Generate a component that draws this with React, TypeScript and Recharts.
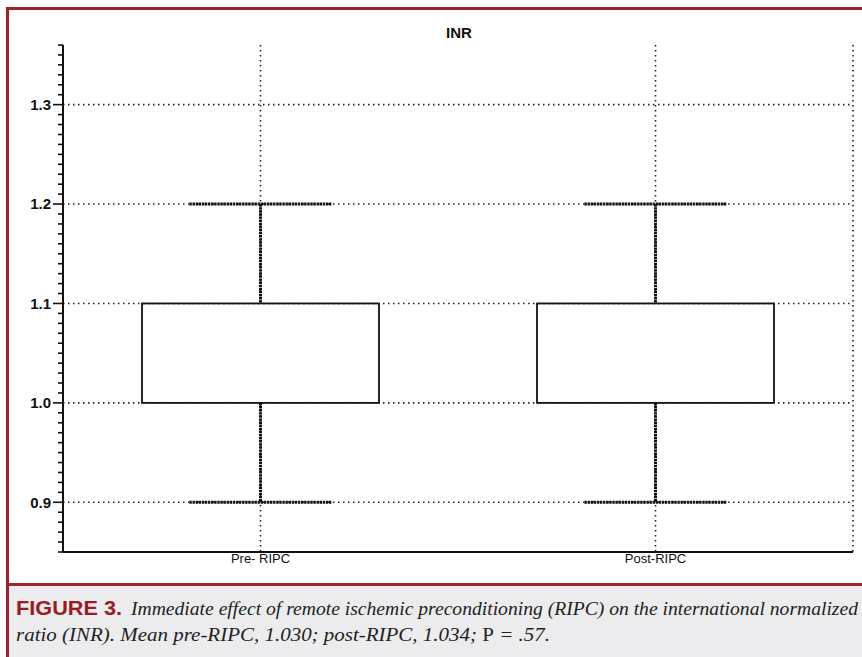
import React from 'react';
import { ComposedChart, Bar, XAxis, YAxis, CartesianGrid, ReferenceLine } from 'recharts';

// Box-plot summary of INR before and after RIPC
const categories = ['Pre- RIPC', 'Post-RIPC'];
const lowerWhisker = [0.9, 0.9];
const firstQuartile = [1.0, 1.0];
const thirdQuartile = [1.1, 1.1];
const upperWhisker = [1.2, 1.2];

const majorTicks = [0.9, 1.0, 1.1, 1.2, 1.3];
const yDomain: [number, number] = [0.85, 1.36];

// minor ticks every 0.01 across the value range
const minorTicks: number[] = [];
for (let i = 85; i <= 136; i++) minorTicks.push(i / 100);

const RED = '#a0222a';
const INK = '#111';
const SANS = "'Liberation Sans', Arial, Helvetica, sans-serif";
const DOTS = { stroke: '#222', strokeWidth: 1.6, strokeDasharray: '1.5 3.5' };

const data = categories.map((name, i) => ({
  name,
  base: lowerWhisker[i],
  lower: firstQuartile[i] - lowerWhisker[i],
  box: thirdQuartile[i] - firstQuartile[i],
  upper: upperWhisker[i] - thirdQuartile[i],
}));

const WHISKER = { stroke: '#111', strokeWidth: 3, strokeDasharray: '2.4 0.7' };

const Hidden = () => null;

const LowerWhisker = (p: any) => {
  const cx = p.x + p.width / 2;
  const half = p.width * 0.3;
  const bottom = p.y + p.height;
  return (
    <g>
      <line x1={cx} x2={cx} y1={p.y} y2={bottom} {...WHISKER} />
      <line x1={cx - half} x2={cx + half} y1={bottom} y2={bottom} {...WHISKER} />
    </g>
  );
};

const UpperWhisker = (p: any) => {
  const cx = p.x + p.width / 2;
  const half = p.width * 0.3;
  return (
    <g>
      <line x1={cx} x2={cx} y1={p.y} y2={p.y + p.height} {...WHISKER} />
      <line x1={cx - half} x2={cx + half} y1={p.y} y2={p.y} {...WHISKER} />
    </g>
  );
};

const BoxShape = (p: any) => (
  <rect x={p.x} y={p.y} width={p.width} height={p.height} fill="#fff" stroke={INK} strokeWidth={1.8} />
);

const isMajor = (v: number) => majorTicks.some((m) => Math.abs(m - v) < 1e-6);

const YTick = (p: any) => {
  const v = p.payload.value;
  const major = isMajor(v);
  const len = major ? 10 : 5;
  return (
    <g>
      <line x1={p.x - len} x2={p.x} y1={p.y} y2={p.y} stroke={INK} strokeWidth={1.6} />
      {major && (
        <text
          x={p.x - len - 2}
          y={p.y}
          dy="0.36em"
          textAnchor="end"
          fontFamily={SANS}
          fontWeight="bold"
          fontSize={15}
          fill={INK}
        >
          {v.toFixed(1)}
        </text>
      )}
    </g>
  );
};

export default function App() {
  return (
    <div
      style={{
        position: 'absolute',
        left: 0,
        top: 0,
        width: 862,
        height: 657,
        overflow: 'hidden',
        background: '#fff',
      }}
    >
      <div style={{ position: 'absolute', left: 6, top: 7, right: 0, height: 3, background: RED }} />
      <div style={{ position: 'absolute', left: 6, top: 7, width: 3, bottom: 0, background: RED }} />
      <div style={{ position: 'absolute', left: 9, top: 583, right: 0, height: 2.5, background: RED }} />
      <div style={{ position: 'absolute', left: 9, top: 585.5, right: 0, bottom: 0, background: '#ececee' }} />

      <div style={{ position: 'absolute', left: 0, top: 0 }}>
        <ComposedChart
          width={862}
          height={580}
          data={data}
          margin={{ top: 45, right: 9, bottom: 8, left: 0 }}
          barCategoryGap="20%"
        >
          <text
            x={459}
            y={38}
            textAnchor="middle"
            fontFamily={SANS}
            fontWeight="bold"
            fontSize={15}
            fill={INK}
          >
            INR
          </text>
          <CartesianGrid horizontal={false} {...DOTS} />
          {majorTicks.map((v) => (
            <ReferenceLine key={v} y={v} {...DOTS} />
          ))}
          <XAxis
            dataKey="name"
            height={20}
            tickLine={false}
            tickSize={0}
            tickMargin={2}
            axisLine={{ stroke: INK, strokeWidth: 2 }}
            tick={{ fontFamily: SANS, fontSize: 13, fill: INK }}
          />
          <XAxis
            xAxisId="top"
            orientation="top"
            dataKey="name"
            height={0}
            tick={false}
            tickLine={false}
            axisLine={{ stroke: INK, strokeWidth: 1.8 }}
          />
          <YAxis
            type="number"
            domain={yDomain}
            allowDataOverflow
            ticks={minorTicks}
            interval={0}
            width={63}
            tickLine={false}
            tickSize={0}
            tickMargin={0}
            tick={<YTick />}
            axisLine={{ stroke: INK, strokeWidth: 2 }}
          />
          <YAxis
            yAxisId="right"
            orientation="right"
            type="number"
            domain={yDomain}
            allowDataOverflow
            width={0}
            tick={false}
            tickLine={false}
            axisLine={{ stroke: INK, strokeWidth: 2 }}
          />
          <Bar dataKey="base" stackId="bp" shape={<Hidden />} isAnimationActive={false} />
          <Bar dataKey="lower" stackId="bp" shape={<LowerWhisker />} isAnimationActive={false} />
          <Bar dataKey="box" stackId="bp" shape={<BoxShape />} isAnimationActive={false} />
          <Bar dataKey="upper" stackId="bp" shape={<UpperWhisker />} isAnimationActive={false} />
        </ComposedChart>
      </div>

      <svg width={862} height={72} style={{ position: 'absolute', left: 0, top: 585 }}>
        <text
          x={16}
          y={30}
          fontFamily="'Liberation Sans Narrow', 'Liberation Sans', Arial, sans-serif"
          fontWeight="bold"
          fontSize={21}
          fill="#9b1b22"
          textLength={106}
          lengthAdjust="spacingAndGlyphs"
        >
          FIGURE 3.
        </text>
        <text
          x={131}
          y={30}
          fontFamily="'Liberation Serif', 'Times New Roman', serif"
          fontStyle="italic"
          fontSize={19}
          fill="#222"
          textLength={727}
          lengthAdjust="spacingAndGlyphs"
        >
          Immediate effect of remote ischemic preconditioning (RIPC) on the international normalized
        </text>
        <text
          x={16}
          y={56}
          fontFamily="'Liberation Serif', 'Times New Roman', serif"
          fontSize={19}
          fill="#222"
          textLength={534}
          lengthAdjust="spacingAndGlyphs"
        >
          <tspan fontStyle="italic">ratio (INR). Mean pre-RIPC, 1.030; post-RIPC, 1.034; </tspan>
          <tspan>P</tspan>
          <tspan fontStyle="italic"> = .57.</tspan>
        </text>
      </svg>
    </div>
  );
}
